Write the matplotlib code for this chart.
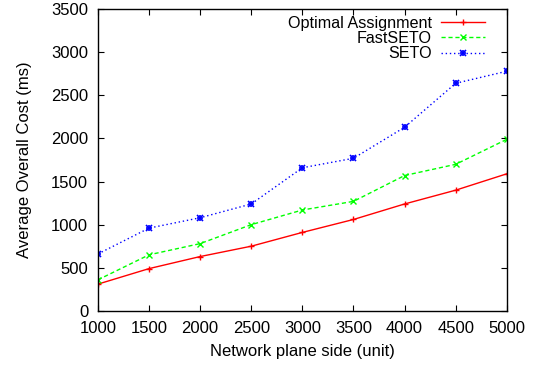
import matplotlib
matplotlib.use("Agg")
import matplotlib.pyplot as plt
from matplotlib.legend_handler import HandlerTuple

# network plane side (unit)
sides = [1000, 1500, 2000, 2500, 3000, 3500, 4000, 4500, 5000]

optimal = [310, 490, 630, 750, 910, 1060, 1240, 1400, 1590]
fastseto = [360, 650, 780, 1000, 1170, 1270, 1570, 1700, 1990]
seto = [660, 960, 1080, 1240, 1660, 1770, 2130, 2640, 2780]

y_ticks = [0, 500, 1000, 1500, 2000, 2500, 3000, 3500]

plt.rcParams["font.family"] = ["Liberation Sans", "DejaVu Sans"]

fig = plt.figure(figsize=(5.38, 3.67), dpi=100)
ax = fig.add_axes([0.182, 0.153, 0.760, 0.822])

l1, = ax.plot(sides, optimal, color="red", lw=1, ls="-", marker="+", ms=5,
              mew=1)
l2, = ax.plot(sides, fastseto, color="#00ff00", lw=1, ls=(0, (3, 2)),
              marker="x", ms=4, mew=1)
# gnuplot style "*" marker: x and + drawn on top of each other
l3, = ax.plot(sides, seto, color="blue", lw=1, ls=(0, (1, 2)), marker="x",
              ms=4, mew=1.2)
l3b, = ax.plot(sides, seto, color="blue", lw=0, marker="+", ms=5, mew=1.2)

ax.set_xlim(1000, 5000)
ax.set_ylim(0, 3500)
ax.set_xticks(sides)
ax.set_yticks(y_ticks)
ax.tick_params(direction="in", top=True, right=True, length=4,
               labelsize=12, pad=7)
for s in ax.spines.values():
  s.set_linewidth(1)

ax.set_xlabel("Network plane side (unit)", fontsize=12, labelpad=6)
ax.set_ylabel("Average Overall Cost (ms)", fontsize=12, labelpad=14)

ax.legend([l1, l2, (l3, l3b)], ["Optimal Assignment", "FastSETO", "SETO"],
          handler_map={tuple: HandlerTuple(ndivide=1, pad=0)},
          loc="upper right", bbox_to_anchor=(0.958, 0.995),
          frameon=False, markerfirst=False, fontsize=11.6,
          handlelength=2.7, handletextpad=0.6, labelspacing=0.02,
          borderaxespad=0, borderpad=0.3)

fig.savefig("out.png", dpi=100)
